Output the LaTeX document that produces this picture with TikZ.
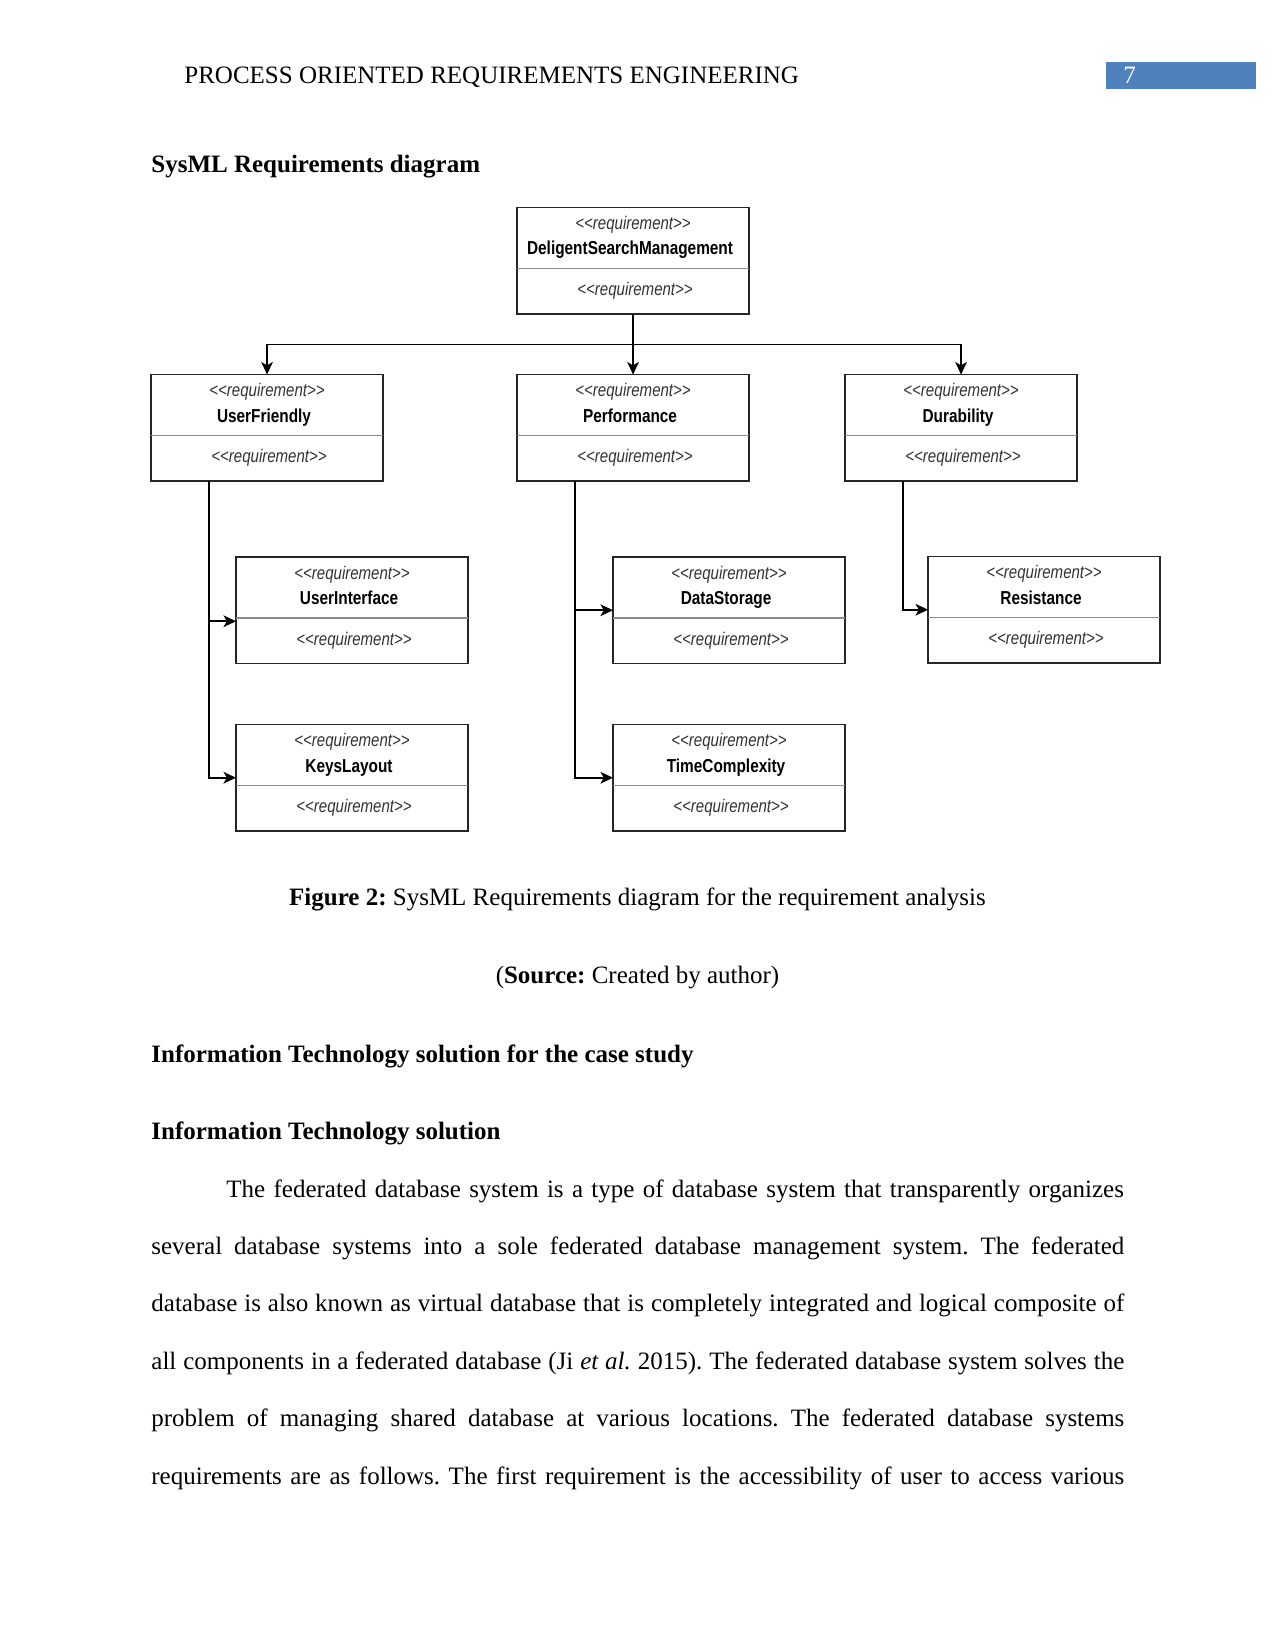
\documentclass[tikz,border=0pt]{standalone}
\usepackage{fontspec}
\setmainfont{Liberation Serif}
\newfontfamily\diagfont[FakeStretch=0.82]{Liberation Sans}
\usepackage{xcolor}
\usetikzlibrary{arrows.meta,calc}
\definecolor{headblue}{RGB}{79,129,189}
\frenchspacing

\newcommand{\stereotype}{\textit{<\kern0pt<requirement>\kern0pt>}}
\newcommand{\reqbox}[3]{%
  \node[reqbox] (#1) at (#2) {};
  \draw[divider] ($(#1.north west)+(0,61)$) -- ($(#1.north east)+(0,61)$);
  \node[stereo] (#1-top) at ($(#1.north)+(0,22)$) {\stereotype};
  \node[reqname] (#1-name) at ($(#1.north)+(-3,47.5)$) {#3};
  \node[stereo] (#1-bot) at ($(#1.north)+(2,88)$) {\stereotype};
}

\begin{document}
\begin{tikzpicture}[x=0.48pt, y=-0.48pt,
    reqbox/.style={draw=black!85, line width=0.9pt, anchor=north west, minimum width=111.4pt, minimum height=51.1pt, inner sep=0pt, outer sep=0pt},
    divider/.style={draw=black!45, line width=0.5pt},
    stereo/.style={anchor=base, inner sep=0pt, text=black!80, font=\diagfont\fontsize{8.8}{10}\selectfont},
    reqname/.style={anchor=base, inner sep=0pt, font=\diagfont\fontsize{9}{10}\selectfont\bfseries},
    link/.style={line width=0.75pt},
    arrow/.style={link, -{Stealth[length=6pt, width=5.6pt, inset=1.6pt]}},
    bodyline/.style={anchor=base west, inner sep=0pt, font=\fontsize{12}{14}\selectfont},
    heading/.style={bodyline, font=\fontsize{12}{14}\selectfont\bfseries}
]
\fill[white] (0,0) rectangle (1275,1651);
\useasboundingbox (0,0) rectangle (1275,1651);

\node[bodyline] (runhead) at (184,83.3) {PROCESS ORIENTED REQUIREMENTS ENGINEERING};
\node[fill=headblue, anchor=north west, minimum width=72pt, minimum height=13pt, inner sep=0pt] (pagebox) at (1106,61.7) {};
\node[bodyline, text=white] (pagenum) at (1123,83.3) {7};

\node[heading] (sysmlhead) at (151,173) {SysML Requirements diagram};

\reqbox{dsm}{517,207.5}{DeligentSearchManagement}
\reqbox{uf}{151,374.5}{UserFriendly}
\reqbox{perf}{517,374.5}{Performance}
\reqbox{dur}{845,374.5}{Durability}
\reqbox{ui}{236,557}{UserInterface}
\reqbox{kl}{236,724.5}{KeysLayout}
\reqbox{ds}{613,557}{DataStorage}
\reqbox{tc}{613,724.5}{TimeComplexity}
\reqbox{res}{928,556.5}{Resistance}

\coordinate (bus) at ($(dsm.south)+(0,30.5)$);
\draw[link] (dsm.south) -- (bus);
\draw[arrow] (bus) -| (uf.north);
\draw[arrow] (bus) -- (perf.north);
\draw[arrow] (bus) -| (dur.north);

\coordinate (uftrunk) at ($(uf.south west)+(58,0)$);
\coordinate (perftrunk) at ($(perf.south west)+(58,0)$);
\coordinate (durtrunk) at ($(dur.south west)+(58,0)$);
\draw[arrow] (uftrunk) |- ($(ui.west)+(0,11)$);
\draw[arrow] (uftrunk) |- (kl.west);
\draw[arrow] (perftrunk) |- (ds.west);
\draw[arrow] (perftrunk) |- (tc.west);
\draw[arrow] (durtrunk) |- (res.west);

\node[bodyline, anchor=base] (caption) at (637.5,905) {\textbf{Figure 2:} SysML Requirements diagram for the requirement analysis};
\node[bodyline, anchor=base] (source) at (637.5,983) {(\textbf{Source:} Created by author)};

\node[heading] (ithead) at (151,1062) {Information Technology solution for the case study};
\node[heading] (itsub) at (151,1139) {Information Technology solution};

\node[bodyline] (line1) at (226,1197) {\makebox[430.8pt][s]{The federated database system is a type of database system that transparently organizes}};
\node[bodyline] (line2) at (151,1254.4) {\makebox[467pt][s]{several database systems into a sole federated database management system. The federated}};
\node[bodyline] (line3) at (151,1311.8) {\makebox[467pt][s]{database is also known as virtual database that is completely integrated and logical composite of}};
\node[bodyline] (line4) at (151,1369.2) {\makebox[467pt][s]{all components in a federated database (Ji \textit{et al.} 2015). The federated database system solves the}};
\node[bodyline] (line5) at (151,1426.6) {\makebox[467pt][s]{problem of managing shared database at various locations. The federated database systems}};
\node[bodyline] (line6) at (151,1484) {\makebox[467pt][s]{requirements are as follows. The first requirement is the accessibility of user to access various}};
\end{tikzpicture}
\end{document}
